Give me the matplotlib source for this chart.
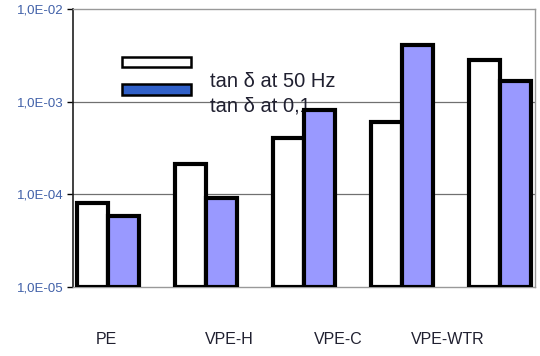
import matplotlib
matplotlib.use('Agg')
import matplotlib.pyplot as plt
import matplotlib.transforms as mtransforms
import numpy as np
from matplotlib.patches import Rectangle

plt.rcParams['font.family'] = ['Liberation Sans', 'DejaVu Sans']

groups = ['PE', 'VPE-H', 'VPE-C', 'VPE-WTR', '']
tan_50hz = [8.1e-5, 2.1e-4, 4.1e-4, 6.0e-4, 2.8e-3]
tan_01hz = [5.9e-5, 9.1e-5, 8.1e-4, 4.1e-3, 1.67e-3]
yticks = [1e-5, 1e-4, 1e-3, 1e-2]
ytick_labels = ['1,0E-05', '1,0E-04', '1,0E-03', '1,0E-02']
# where the original put its category captions (data x, offset from groups)
label_x = [-0.02, 1.235, 2.35, 3.47]

base = 1e-5

fig = plt.figure(figsize=(5.4, 3.56), dpi=100)
ax = fig.add_axes([73/540, 1-287/356, 462/540, 278/356])

x = np.arange(len(tan_50hz))
w = 0.316
ax.bar(x - w/2, np.array(tan_50hz) - base, w, bottom=base, color='white',
       edgecolor='black', linewidth=3, zorder=3)
ax.bar(x + w/2, np.array(tan_01hz) - base, w, bottom=base, color='#9999ff',
       edgecolor='black', linewidth=3, zorder=3)

ax.set_yscale('log')
ax.set_ylim(1e-5, 1e-2)
ax.set_xlim(-0.357, 4.357)
ax.set_yticks(yticks)
ax.set_yticklabels(ytick_labels, color='#4060a8', fontsize=9.5)
ax.yaxis.set_minor_locator(matplotlib.ticker.NullLocator())
ax.set_xticks([])
ax.tick_params(axis='y', length=4, width=1, direction='out', pad=3)
for y in yticks[1:3]:
    ax.axhline(y, color='#707070', linewidth=0.9, zorder=1)

ax.spines['left'].set_color('#202020')
ax.spines['left'].set_linewidth(1.2)
for s in ['top', 'right', 'bottom']:
    ax.spines[s].set_color('#999999')
    ax.spines[s].set_linewidth(1.0)

trans = mtransforms.blended_transform_factory(ax.transData, fig.transFigure)
for lx, g in zip(label_x, groups):
    ax.text(lx, 0.045, g, transform=trans, ha='center', va='center',
            fontsize=11.5, color='#202030')

# legend, drawn the way the original shows it (second entry partly hidden)
fig.patches.append(Rectangle((122/540, 1-67/356), 69/540, 10/356,
                             transform=fig.transFigure, facecolor='white',
                             edgecolor='black', linewidth=1.8))
fig.patches.append(Rectangle((122/540, 1-95/356), 69/540, 11/356,
                             transform=fig.transFigure, facecolor='#3060c8',
                             edgecolor='black', linewidth=1.8))
fig.text(210/540, 1-87/356, 'tan δ at 50 Hz', fontsize=14.5, color='#202030',
         va='baseline', ha='left')
ax.text((210-73)/462, (287-111)/278, 'tan δ at 0,1', transform=ax.transAxes,
        fontsize=14.5, color='#202030', va='baseline', ha='left', zorder=2)

fig.savefig('out.png', dpi=100)
